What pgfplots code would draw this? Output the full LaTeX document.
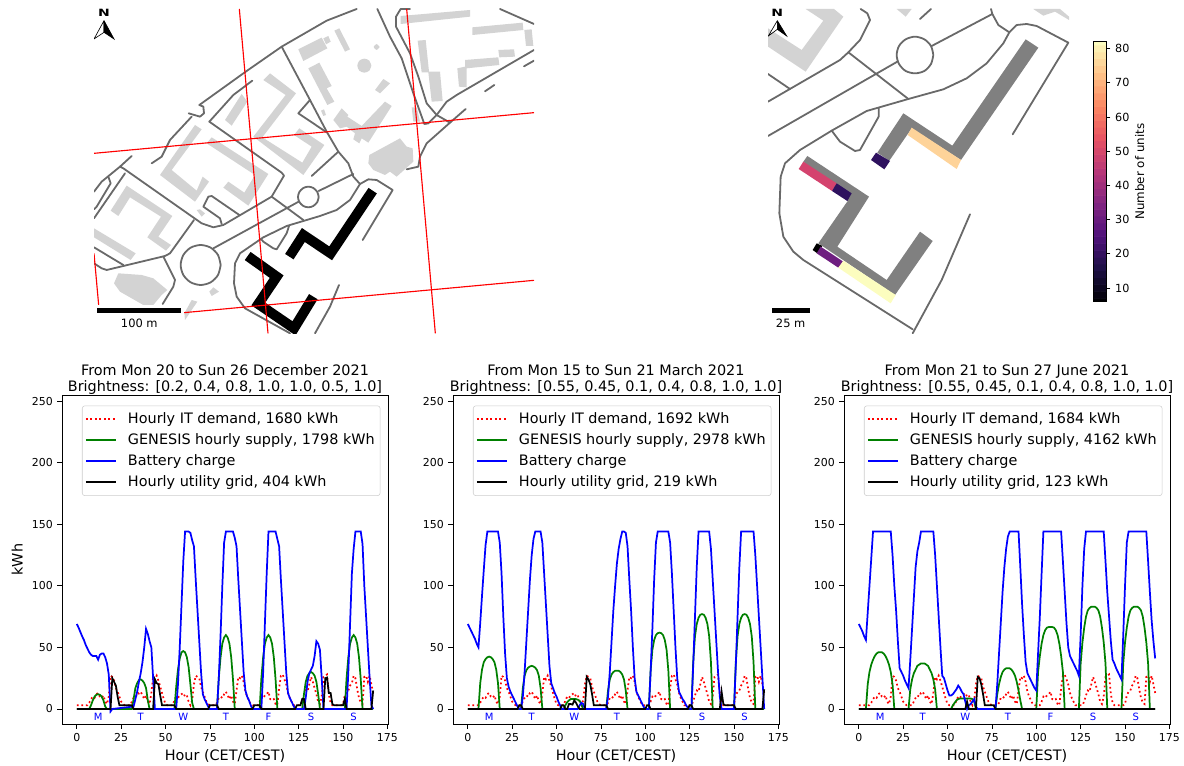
\documentclass[border=0pt]{standalone}
\usepackage{fontspec}
\setmainfont{DejaVu Sans}
\usepackage{pgfplots}
\usepackage{pgfplotstable}
\pgfplotsset{compat=1.18}
\definecolor{road}{HTML}{696969}
\definecolor{bld}{HTML}{D3D3D3}
\definecolor{mred}{rgb}{1,0,0}
\definecolor{mgreen}{HTML}{008000}
\definecolor{mblue}{HTML}{0000FF}
\newcommand{\gap}{\hspace*{6pt}}
\pgfplotsset{
 colormap={magma}{rgb255=(0,0,4) rgb255=(28,16,68) rgb255=(79,18,123) rgb255=(129,37,129) rgb255=(183,55,121) rgb255=(231,82,99) rgb255=(251,135,97) rgb255=(254,194,135) rgb255=(252,253,191)},
 mapaxis/.style={scale only axis,hide axis,y dir=reverse,clip=true},
 rd/.style={draw=road,line width=1.35pt,line join=round,line cap=round},
 bl/.style={fill=bld,draw=none},
 redl/.style={draw=mred,line width=0.85pt},
 panel/.style={scale only axis,width=244.5pt,height=246.75pt,xmin=-8.35,xmax=175.35,ymin=-12.2,ymax=254.9,
  xtick={0,25,...,175},ytick={0,50,...,250},tick align=outside,xtick pos=bottom,ytick pos=left,
  tick style={black,line width=0.6pt},major tick length=3.4pt,axis line style={line width=0.6pt},
  ticklabel style={font=\fontsize{8.2}{9}\selectfont},
  /pgf/number format/assume math mode=true,
  xlabel={Hour (CET/CEST)},xlabel style={font=\fontsize{10.8}{12}\selectfont,yshift=0.6pt},
  ylabel style={font=\fontsize{10.8}{12}\selectfont},
  title style={align=center,font=\fontsize{10.8}{12}\selectfont,yshift=-9.2pt},
  legend cell align=left,
  legend style={at={(0.0613,0.968)},anchor=north west,draw=black!20,rounded corners=2pt,font=\fontsize{10.8}{12}\selectfont,inner xsep=2pt,inner ysep=4.3pt,row sep=4pt,
   /tikz/every node/.append style={inner ysep=1pt}},
  legend image code/.code={\draw[##1] (0pt,0pt) -- (23pt,0pt);},
 },
 sRed/.style={draw=mred,line width=1.3pt,dash pattern=on 1.3pt off 2.1pt},
 sGreen/.style={draw=mgreen,line width=1.3pt},
 sBlue/.style={draw=mblue,line width=1.3pt},
 sBlack/.style={draw=black,line width=1.3pt},
}
\newcommand{\days}{%
 \node[text=mblue,font=\fontsize{7.5}{8}\selectfont] at (axis cs:12,-6.2) {M};
 \node[text=mblue,font=\fontsize{7.5}{8}\selectfont] at (axis cs:36,-6.2) {T};
 \node[text=mblue,font=\fontsize{7.5}{8}\selectfont] at (axis cs:60,-6.2) {W};
 \node[text=mblue,font=\fontsize{7.5}{8}\selectfont] at (axis cs:84,-6.2) {T};
 \node[text=mblue,font=\fontsize{7.5}{8}\selectfont] at (axis cs:108,-6.2) {F};
 \node[text=mblue,font=\fontsize{7.5}{8}\selectfont] at (axis cs:132,-6.2) {S};
 \node[text=mblue,font=\fontsize{7.5}{8}\selectfont] at (axis cs:156,-6.2) {S};
}
\pgfplotstableread{
h d
0 3
1 3
2 3
3 3
4 3
5 3
6 3
7 5
8 8
9 10
10 9
11 12
12 13
13 10
14 9
15 11
16 6
17 4
18 10
19 27
20 26
21 23
22 17
23 14
24 10
25 6
26 4
27 3
28 3
29 3
30 3
31 6
32 9
33 11
34 10
35 13
36 14
37 11
38 8
39 11
40 6
41 4
42 13
43 26
44 24
45 27
46 23
47 18
48 13
49 8
50 4
51 3
52 3
53 3
54 3
55 7
56 10
57 9
58 11
59 12
60 13
61 10
62 11
63 6
64 3
65 7
66 20
67 27
68 26
69 25
70 18
71 14
72 10
73 6
74 4
75 3
76 3
77 3
78 3
79 5
80 9
81 10
82 9
83 12
84 14
85 11
86 8
87 11
88 6
89 4
90 15
91 26
92 25
93 27
94 22
95 14
96 10
97 7
98 4
99 3
100 3
101 3
102 3
103 6
104 10
105 9
106 11
107 12
108 14
109 8
110 7
111 8
112 4
113 3
114 17
115 27
116 28
117 24
118 20
119 13
120 9
121 6
122 3
123 3
124 3
125 3
126 3
127 6
128 11
129 15
130 14
131 20
132 26
133 22
134 17
135 12
136 6
137 4
138 10
139 26
140 27
141 28
142 12
143 5
144 3
145 3
146 3
147 3
148 3
149 3
150 4
151 11
152 14
153 15
154 19
155 21
156 27
157 25
158 16
159 9
160 5
161 4
162 26
163 27
164 22
165 27
166 20
167 13
}\demand
\begin{document}
\begin{tikzpicture}
\path[use as bounding box] (0,0) rectangle (888pt,574.5pt);
% ---------------- left map
\begin{axis}[mapaxis,at={(70.5pt,324.5pt)},anchor=south west,width=330pt,height=243.25pt,xmin=12,xmax=1332,ymin=27,ymax=1000]
\addplot[bl] coordinates {(932,48)(1140,30)(1140,50)(932,72)};
\addplot[bl] coordinates {(1147,82)(1298,68)(1300,90)(1147,105)};
\addplot[bl] coordinates {(1303,90)(1325,88)(1330,138)(1308,138)};
\addplot[bl] coordinates {(983,122)(1007,120)(1017,215)(1050,215)(1058,303)(1025,305)(1015,217)(995,217)};
\addplot[bl] coordinates {(1225,150)(1272,148)(1275,170)(1228,172)};
\addplot[bl] coordinates {(1125,180)(1225,172)(1228,195)(1130,205)(1130,262)(1107,260)(1102,205)(1125,200)};
\addplot[bl] coordinates {(965,322)(980,322)(990,365)(970,365)};
\addplot[bl] coordinates {(625,148)(695,113)(712,145)(640,183)};
\addplot[bl] coordinates {(700,115)(715,108)(722,125)(708,133)};
\addplot[bl] coordinates {(733,92)(748,85)(780,148)(765,155)};
\addplot[bl,smooth] coordinates {(844,197)(838,212)(823,218)(808,212)(802,197)(808,182)(823,176)(838,182)(844,197)};
\addplot[bl,smooth] coordinates {(869,141)(860,150)(851,141)(860,132)(869,141)};
\addplot[bl] coordinates {(880,237)(900,250)(870,280)(855,270)};
\addplot[bl] coordinates {(655,205)(688,188)(725,258)(710,265)(733,305)(712,315)};
\addplot[bl] coordinates {(693,332)(702,328)(708,345)(700,348)};
\addplot[bl] coordinates {(730,360)(755,325)(775,345)(772,350)(815,378)(885,305)(905,318)(835,428)(815,415)(808,430)(790,418)(795,400)(770,380)(750,385)};
\addplot[bl] coordinates {(838,465)(930,415)(950,440)(968,445)(970,485)(920,530)(900,515)(885,525)(850,510)(835,490)};
\addplot[bl] coordinates {(540,220)(618,280)(517,412)(637,488)(665,440)(612,405)(628,385)(703,435)(640,525)(490,410)(587,285)(520,240)};
\addplot[bl] coordinates {(405,360)(455,282)(472,305)(425,377)};
\addplot[bl] coordinates {(315,375)(335,388)(245,510)(320,572)(338,530)(357,545)(315,605)(210,525)};
\addplot[bl] coordinates {(365,412)(535,522)(475,617)(400,563)(415,545)(463,578)(495,525)(350,430)};
\addplot[bl] coordinates {(320,630)(330,628)(345,640)(335,650)};
\addplot[bl] coordinates {(62,632)(110,557)(247,648)(205,710)(243,735)(228,752)(172,712)(213,650)(120,592)(85,648)};
\addplot[bl] coordinates {(12,685)(137,760)(122,780)(12,712)};
\addplot[bl] coordinates {(85,820)(155,825)(190,835)(232,870)(215,885)(190,915)(160,915)(90,875)(72,850)};
\addplot[bl] coordinates {(370,862)(387,875)(365,888)(358,875)};
\addplot[bl] coordinates {(305,900)(322,905)(285,960)(283,940)};
% roads
\addplot[rd] coordinates {(328,315)(470,213)(575,140)(710,62)(800,27)};
\addplot[rd] coordinates {(328,315)(340,320)(342,340)(330,350)(296,340)};
\addplot[rd] coordinates {(487,242)(430,285)(358,365)};
\addplot[rd] coordinates {(575,140)(660,300)(710,395)(745,455)(775,490)(790,530)(810,552)};
\addplot[rd] coordinates {(660,300)(625,340)(710,397)};
\addplot[rd] coordinates {(745,455)(665,528)};
\addplot[rd] coordinates {(790,522)(686,573)};
\addplot[rd,smooth] coordinates {(686,591)(682,606)(670,618)(655,622)(640,618)(628,606)(624,591)(628,576)(640,564)(655,560)(670,564)(682,576)(686,591)};
\addplot[rd] coordinates {(626,605)(370,745)};
\addplot[rd,smooth] coordinates {(392,795)(384,825)(362,847)(332,855)(302,847)(280,825)(272,795)(280,765)(302,743)(332,735)(362,743)(384,765)(392,795)};
\addplot[rd] coordinates {(305,350)(240,420)(215,470)(185,490)};
\addplot[rd] coordinates {(358,365)(575,518)(582,527)(545,590)(400,675)(370,682)(335,670)(100,505)(90,500)(125,468)};
\addplot[rd] coordinates {(90,500)(35,545)(12,575)};
\addplot[rd] coordinates {(55,530)(62,550)(20,620)(12,628)};
\addplot[rd] coordinates {(105,520)(12,655)};
\addplot[rd] coordinates {(545,590)(640,660)};
\addplot[rd] coordinates {(395,672)(390,655)(340,620)(355,590)(365,588)(448,645)};
\addplot[rd] coordinates {(312,660)(240,760)(225,768)(50,810)(35,805)(12,790)};
\addplot[rd] coordinates {(12,742)(100,795)};
\addplot[rd] coordinates {(220,770)(255,840)(250,860)(218,912)};
\addplot[rd] coordinates {(810,552)(780,600)(740,630)(690,648)(590,678)(520,712)(450,760)(435,790)(432,850)(440,890)(465,925)(600,1000)};
\addplot[rd] coordinates {(810,552)(835,538)(860,540)(908,570)(818,720)};
\addplot[rd] coordinates {(597,678)(590,700)(560,748)(550,745)(520,725)(513,717)};
\addplot[rd] coordinates {(747,855)(720,920)(675,1000)};
\addplot[rd] coordinates {(862,27)(900,110)(935,175)(970,280)(1003,372)(1015,370)(1040,345)(1070,305)(1100,285)(1332,150)};
\addplot[rd] coordinates {(960,27)(932,27)(918,50)(918,80)(960,160)(985,230)(1010,310)(1040,345)(1080,368)(1010,430)(990,470)(985,500)(950,508)};
\addplot[rd] coordinates {(1080,368)(1127,327)};
\addplot[rd] coordinates {(1185,274)(1213,255)};
\addplot[rd] coordinates {(1302,199)(1332,182)};
\addplot[rd] coordinates {(1230,27)(1332,72)};
% campus
\addplot[draw=black,line width=7.5pt,line join=miter,line cap=butt] coordinates {(848,572)(722,760)(640,705)(598,770)};
\addplot[draw=black,line width=7.5pt,line join=miter,line cap=butt] coordinates {(473,768)(560,830)(505,912)(612,985)(670,890)};
% red lines
\addplot[redl] coordinates {(448,27)(534,1000)};
\addplot[redl] coordinates {(12,460)(1332,338)};
\addplot[redl] coordinates {(950,27)(1036,1000)};
\addplot[redl] coordinates {(12,760)(26,915)};
\addplot[redl] coordinates {(282,938)(1332,841)};
% scale
\addplot[fill=white,draw=none] coordinates {(12,915)(282,915)(282,1000)(12,1000)};
\addplot[fill=black,draw=none] coordinates {(20,924)(272,924)(272,940)(20,940)};
\node[font=\fontsize{8.6}{10}\selectfont,text=black] at (axis cs:148,970) {100 m};
\addplot[fill=white,draw=black,line width=0.5pt] coordinates {(42,62)(12,117)(42,97)(42,62)};
\addplot[fill=black,draw=black,line width=0.5pt] coordinates {(42,62)(72,117)(42,97)(42,62)};
\node[font=\bfseries\fontsize{7.5}{8}\selectfont,xscale=1.4] at (axis cs:42,38) {N};
\end{axis}
% ---------------- right map
\begin{axis}[mapaxis,at={(576pt,324.5pt)},anchor=south west,width=225.75pt,height=243.25pt,xmin=24,xmax=927,ymin=27,ymax=1000]
\addplot[bl] coordinates {(137,27)(190,62)(125,150)(24,85)(24,140)(137,215)(250,50)(222,27)};
\addplot[bl] coordinates {(410,27)(455,27)(437,50)};
\addplot[bl] coordinates {(820,27)(900,27)(927,50)(927,60)(885,35)(850,47)};
\addplot[rd] coordinates {(480,57)(513,27)};
\addplot[rd] coordinates {(302,27)(322,40)(330,60)(300,120)(265,157)(240,180)(24,305)};
\addplot[rd] coordinates {(265,157)(445,297)};
\addplot[rd] coordinates {(24,222)(90,267)};
\addplot[rd,smooth] coordinates {(520,165)(513,192)(493,213)(465,220)(437,213)(417,192)(410,165)(417,138)(437,118)(465,110)(493,118)(513,138)(520,165)};
\addplot[rd] coordinates {(412,185)(24,408)};
\addplot[rd] coordinates {(515,138)(697,42)(693,27)};
\addplot[rd] coordinates {(697,42)(715,75)(748,97)};
\addplot[rd] coordinates {(748,97)(730,130)(680,190)(620,235)(550,268)(445,297)(320,333)(215,392)(120,450)(75,490)(62,530)(58,640)(70,710)(100,755)(130,780)(458,988)};
\addplot[rd] coordinates {(748,97)(770,75)(800,72)(830,78)(925,128)(758,403)};
\addplot[rd] coordinates {(356,325)(356,350)(300,450)(285,453)(240,425)(215,392)};
\addplot[rd] coordinates {(630,643)(545,840)(458,1000)};
\addplot[fill=gray,draw=none] coordinates {(797,118)(835,143)(603,480)(455,385)(388,482)(352,458)(430,340)(577,437)};
\addplot[fill=gray,draw=none] coordinates {(142,468)(327,590)(232,740)(380,840)(480,695)(518,723)(405,885)(175,730)(263,603)(130,485)};
\addplot[fill={rgb,255:red,254;green,211;blue,153},draw=none] coordinates {(455,383)(603,480)(590,507)(443,405)};
\addplot[fill={rgb,255:red,46;green,17;blue,94},draw=none] coordinates {(348,458)(390,483)(373,508)(333,480)};
\addplot[fill={rgb,255:red,212;green,67;blue,110},draw=none] coordinates {(130,485)(230,550)(216,573)(116,507)};
\addplot[fill={rgb,255:red,46;green,17;blue,94},draw=none] coordinates {(230,550)(275,580)(262,603)(216,573)};
\addplot[fill=black,draw=none] coordinates {(170,730)(187,738)(172,760)(158,750)};
\addplot[fill={rgb,255:red,110;green,30;blue,128},draw=none] coordinates {(182,740)(250,785)(235,803)(170,760)};
\addplot[fill={rgb,255:red,252;green,253;blue,191},draw=none] coordinates {(250,782)(407,885)(392,910)(235,803)};
\addplot[fill=black,draw=none] coordinates {(36,924)(150,924)(150,940)(36,940)};
\node[font=\fontsize{8.6}{10}\selectfont] at (axis cs:92,970) {25 m};
\addplot[fill=white,draw=black,line width=0.5pt] coordinates {(52,62)(25,108)(52,88)(52,62)};
\addplot[fill=black,draw=black,line width=0.5pt] coordinates {(52,62)(80,108)(52,88)(52,62)};
\node[font=\bfseries\fontsize{7.5}{8}\selectfont,xscale=1.4] at (axis cs:52,38) {N};
\end{axis}
% ---------------- colour bar
\begin{axis}[scale only axis,at={(820pt,348.2pt)},anchor=south west,width=10pt,height=195pt,xmin=0,xmax=1,ymin=6,ymax=82,
 xtick=\empty,ytick={10,20,...,80},yticklabel pos=right,tick align=outside,ytick pos=right,tick style={black,line width=0.6pt},major tick length=2.8pt,
 axis line style={line width=0.6pt},ticklabel style={font=\fontsize{8.4}{9}\selectfont},/pgf/number format/assume math mode=true,
 ylabel={Number of units},ylabel near ticks,ylabel style={font=\fontsize{8.9}{10}\selectfont,yshift=2.6pt},axis on top]
\addplot[matrix plot*,mesh/cols=2,point meta=y,point meta min=6,point meta max=82] coordinates {
(0,6)(1,6)(0,8)(1,8)(0,10)(1,10)(0,12)(1,12)(0,14)(1,14)(0,16)(1,16)(0,18)(1,18)(0,20)(1,20)(0,22)(1,22)(0,24)(1,24)(0,26)(1,26)(0,28)(1,28)(0,30)(1,30)(0,32)(1,32)(0,34)(1,34)(0,36)(1,36)(0,38)(1,38)(0,40)(1,40)(0,42)(1,42)(0,44)(1,44)(0,46)(1,46)(0,48)(1,48)(0,50)(1,50)(0,52)(1,52)(0,54)(1,54)(0,56)(1,56)(0,58)(1,58)(0,60)(1,60)(0,62)(1,62)(0,64)(1,64)(0,66)(1,66)(0,68)(1,68)(0,70)(1,70)(0,72)(1,72)(0,74)(1,74)(0,76)(1,76)(0,78)(1,78)(0,80)(1,80)(0,82)(1,82)};
\end{axis}
% ---------------- panel 1
\begin{axis}[panel,at={(46.5pt,31.5pt)},anchor=south west,ylabel={kWh},
 title={From Mon 20 to Sun 26 December 2021\\Brightness: [0.2, 0.4, 0.8, 1.0, 1.0, 0.5, 1.0]}]
\addplot[sRed,forget plot] table[x=h,y=d] {\demand};
\addplot[sGreen,forget plot] coordinates {(0,0)(7,0)(8,3)(9,7)(10,10)(11,11.5)(12,12)(13,11.5)(14,10)(15,7)(16,2)(17,0)(31,0)(32,8)(33,17)(34,21)(35,23.5)(36,24)(37,23)(38,21)(39,17)(40,7)(41,0)(55,0)(56,18)(57,32)(58,41)(59,46)(60,47)(61,46)(62,42)(63,34)(64,20)(65,5)(66,0)(79,0)(80,25)(81,42)(82,53)(83,58)(84,60)(85,58)(86,53)(87,42)(88,24)(89,0)(103,0)(104,25)(105,42)(106,53)(107,58)(108,60)(109,58)(110,53)(111,42)(112,24)(113,0)(127,0)(128,12)(129,22)(130,27)(131,29)(132,30)(133,29)(134,27)(135,22)(136,12)(137,0)(151,0)(152,25)(153,42)(154,53)(155,58)(156,60)(157,58)(158,53)(159,42)(160,24)(161,0)(167,0)};
\addplot[sBlue,forget plot] coordinates {(0,69)(1,66)(2,62.5)(3,59)(4,56)(5,52)(6,49)(7,46)(8,44)(9,43)(10,43)(11,43)(12,40)(13,44)(14,45)(15,45)(16,42)(17,37)(18,28)(19,-2)(20,0)(32,2)(33,8)(34,14)(35,22)(36,29)(37,38)(38,50)(39,65)(40,61)(41,55)(42,50)(43,25)(44,0)(56,0)(57,20)(58,50)(59,85)(60,120)(61,144)(62,144)(63,144)(64,143)(65,137)(66,132)(67,105)(68,80)(69,55)(70,30)(71,12)(72,8)(73,5)(74,2)(75,0)(79,0)(80,25)(81,60)(82,100)(83,135)(84,144)(85,144)(86,144)(87,144)(88,144)(89,139)(90,132)(91,105)(92,80)(93,55)(94,30)(95,15)(96,10)(97,7)(98,3)(99,0)(104,0)(105,30)(106,70)(107,110)(108,144)(109,144)(110,144)(111,144)(112,144)(113,138)(114,132)(115,105)(116,80)(117,55)(118,30)(119,13)(120,9)(121,6)(122,3)(123,0)(128,0)(129,9)(130,22)(131,29)(132,32)(133,35)(134,43)(135,55)(136,53)(137,48)(138,25)(139,0)(152,0)(153,30)(154,70)(155,110)(156,130)(157,144)(158,144)(159,144)(160,144)(161,134)(162,100)(163,75)(164,50)(165,25)(166,3)(167,0)};
\addplot[sBlack,forget plot] coordinates {(0,0)(19,0)(20,25)(21,22)(22,19)(23,10)(24,3)(31,3)(32,0)(43,0)(44,24)(45,21)(46,20)(47,11)(48,3)(55,3)(56,0)(74,0)(75,3)(79,3)(80,0)(99,0)(100,3)(103,3)(104,0)(123,0)(124,3)(126,3)(127,8)(128,8)(129,0)(139,0)(140,25)(141,25.5)(142,13)(143,13)(144,4)(145,3)(150,3)(151,8)(152,0)(166,0)(167,15)};
\addlegendimage{sRed}\addlegendentry{\gap Hourly IT demand, 1680 kWh}
\addlegendimage{sGreen}\addlegendentry{\gap GENESIS hourly supply, 1798 kWh}
\addlegendimage{sBlue}\addlegendentry{\gap Battery charge}
\addlegendimage{sBlack}\addlegendentry{\gap Hourly utility grid, 404 kWh}
\days
\end{axis}
% ---------------- panel 2
\begin{axis}[panel,at={(339.75pt,31.5pt)},anchor=south west,
 title={From Mon 15 to Sun 21 March 2021\\Brightness: [0.55, 0.45, 0.1, 0.4, 0.8, 1.0, 1.0]}]
\addplot[sRed,forget plot] table[x=h,y=d] {\demand};
\addplot[sGreen,forget plot] coordinates {(0,0)(6,0)(7,21)(8,32)(9,38)(10,40.5)(11,42)(12,42.5)(13,42)(14,40.5)(15,38)(16,32)(17,21)(18,0)(30,0)(31,17)(32,27)(33,31.5)(34,33.5)(35,34.5)(36,35)(37,34.5)(38,33.5)(39,31.5)(40,27)(41,17)(42,0)(54,0)(55,3)(56,5.5)(57,7)(58,8)(59,8)(60,8)(61,8)(62,7.5)(63,6.5)(64,4)(65,0)(78,0)(79,15)(80,24)(81,28)(82,30)(83,31)(84,31)(85,31)(86,30)(87,28)(88,24)(89,15)(90,0)(102,0)(103,31)(104,48)(105,56)(106,60)(107,61.5)(108,62)(109,61.5)(110,60)(111,56)(112,48)(113,31)(114,0)(126,0)(127,38)(128,59)(129,69)(130,74)(131,76.5)(132,77)(133,76.5)(134,74)(135,69)(136,59)(137,38)(138,0)(150,0)(151,38)(152,59)(153,69)(154,74)(155,76.5)(156,77)(157,76.5)(158,74)(159,69)(160,59)(161,38)(162,0)(167,0)};
\addplot[sBlue,forget plot] coordinates {(0,69)(1,66)(2,63)(3,60)(4,57)(5,53)(6,50)(7,70)(8,92)(9,113)(10,133)(11,144)(17,144)(18,135)(19,110)(20,75)(21,45)(22,25)(23,18)(24,14)(25,11)(26,8)(27,5)(28,2)(29,0)(30,0)(31,10)(32,30)(33,55)(34,80)(35,105)(36,125)(37,138)(38,144)(39,144)(40,144)(41,144)(42,135)(43,110)(44,85)(45,60)(46,35)(47,21)(48,17)(49,13)(50,10)(51,6)(52,3)(53,0)(62,0)(63,3)(64,5)(65,4)(66,0)(78,0)(79,10)(80,30)(81,55)(82,80)(83,100)(84,118)(85,130)(86,138)(87,144)(88,144)(89,143)(90,132)(91,105)(92,80)(93,50)(94,25)(95,14)(96,11)(97,8)(98,5)(99,2)(100,0)(102,0)(103,30)(104,65)(105,105)(106,135)(107,144)(113,144)(114,135)(115,110)(116,80)(117,50)(118,25)(119,14)(120,11)(121,8)(122,6)(123,3)(124,1)(125,0)(126,0)(127,35)(128,75)(129,115)(130,144)(136,144)(137,130)(138,105)(139,80)(140,55)(141,30)(142,10)(143,0)(150,0)(151,35)(152,75)(153,115)(154,144)(161,144)(162,125)(163,100)(164,75)(165,50)(166,25)(167,0)};
\addplot[sBlack,forget plot] coordinates {(0,0)(28,0)(29,3)(30,3)(31,0)(52,0)(53,3)(54,3)(55,0)(56,0)(57,4)(58,4)(59,3.5)(60,7)(61,5)(62,2)(63,0)(66,0)(67,26)(68,24)(69,20)(70,12)(71,3)(78,3)(79,0)(100,0)(101,3)(102,3)(103,0)(124,0)(125,3)(126,3)(127,0)(142,0)(143,14)(144,4)(145,3)(150,3)(151,0)(166,0)(167,16)};
\addlegendimage{sRed}\addlegendentry{\gap Hourly IT demand, 1692 kWh}
\addlegendimage{sGreen}\addlegendentry{\gap GENESIS hourly supply, 2978 kWh}
\addlegendimage{sBlue}\addlegendentry{\gap Battery charge}
\addlegendimage{sBlack}\addlegendentry{\gap Hourly utility grid, 219 kWh}
\days
\end{axis}
% ---------------- panel 3
\begin{axis}[panel,at={(633pt,31.5pt)},anchor=south west,
 title={From Mon 21 to Sun 27 June 2021\\Brightness: [0.55, 0.45, 0.1, 0.4, 0.8, 1.0, 1.0]}]
\addplot[sRed,forget plot] table[x=h,y=d] {\demand};
\addplot[sGreen,forget plot] coordinates {(0,0)(4,0)(5,20)(6,30)(7,36)(8,40)(9,43)(10,45)(11,46)(12,46)(13,46)(14,45)(15,43)(16,40)(17,36)(18,30)(19,20)(20,0)(28,0)(29,16)(30,24)(31,29)(32,32)(33,35)(34,36)(35,37)(36,37)(37,37)(38,36)(39,35)(40,32)(41,29)(42,24)(43,16)(44,0)(52,0)(53,3)(54,5)(55,7)(56,8)(57,8.5)(58,8.5)(59,8.5)(60,8.5)(61,8.5)(62,8.5)(63,8.5)(64,8)(65,6)(66,0)(77,0)(78,12)(79,20)(80,26)(81,30)(82,32)(83,33)(84,33)(85,33)(86,32)(87,30)(88,27)(89,22)(90,15)(91,7)(92,0)(100,0)(101,30)(102,43)(103,53)(104,60)(105,64)(106,66)(107,66.5)(108,66.5)(109,66.5)(110,66)(111,64)(112,60)(113,53)(114,43)(115,30)(116,0)(124,0)(125,37)(126,54)(127,66)(128,75)(129,80)(130,82)(131,83)(132,83)(133,83)(134,82)(135,80)(136,75)(137,66)(138,54)(139,37)(140,0)(148,0)(149,37)(150,54)(151,66)(152,75)(153,80)(154,82)(155,83)(156,83)(157,83)(158,82)(159,80)(160,75)(161,66)(162,54)(163,37)(164,0)(167,0)};
\addplot[sBlue,forget plot] coordinates {(0,69)(1,66)(2,63)(3,59)(4,56)(5,78)(6,100)(7,122)(8,144)(18,144)(19,125)(20,100)(21,80)(22,55)(23,33)(24,30)(25,27)(26,23)(27,20)(28,17)(29,40)(30,65)(31,90)(32,115)(33,128)(34,135)(35,144)(42,144)(43,125)(44,100)(45,75)(46,50)(47,27)(48,25)(49,20)(50,15)(51,11)(52,11)(53,12)(54,14)(55,16)(56,19)(57,17)(58,14)(59,12)(60,6)(61,0)(62,3)(63,4)(64,6)(65,8)(66,2)(67,0)(77,0)(78,20)(79,45)(80,70)(81,95)(82,115)(83,130)(84,140)(85,144)(90,144)(91,115)(92,85)(93,60)(94,38)(95,29)(96,26)(97,23)(98,20)(99,17)(100,15)(101,45)(102,75)(103,110)(104,144)(114,144)(115,120)(116,95)(117,70)(118,50)(119,43)(120,40)(121,37)(122,34)(123,31)(124,27)(125,60)(126,100)(127,130)(128,144)(138,144)(139,120)(140,95)(141,75)(142,55)(143,40)(144,37)(145,33)(146,30)(147,27)(148,24)(149,60)(150,100)(151,135)(152,144)(162,144)(163,120)(164,95)(165,72)(166,55)(167,41)};
\addplot[sBlack,forget plot] coordinates {(0,0)(60,0)(61,6)(62,0)(66,0)(67,26)(68,25)(69,20)(70,12)(71,3)(76,3)(77,0)(167,0)};
\addlegendimage{sRed}\addlegendentry{\gap Hourly IT demand, 1684 kWh}
\addlegendimage{sGreen}\addlegendentry{\gap GENESIS hourly supply, 4162 kWh}
\addlegendimage{sBlue}\addlegendentry{\gap Battery charge}
\addlegendimage{sBlack}\addlegendentry{\gap Hourly utility grid, 123 kWh}
\days
\end{axis}
\end{tikzpicture}
\end{document}
